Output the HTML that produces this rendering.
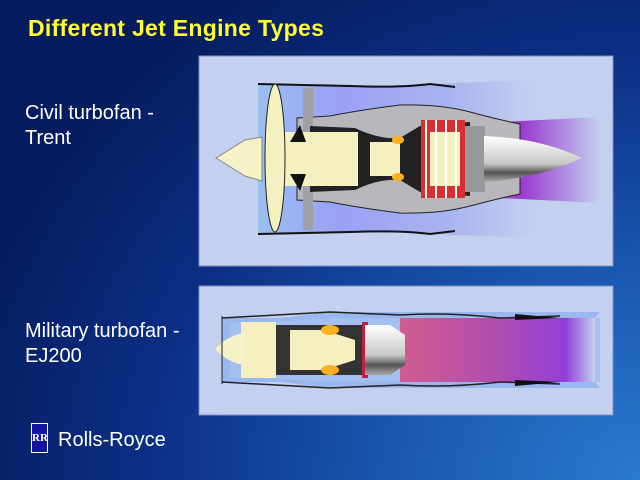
<!DOCTYPE html>
<html><head><meta charset="utf-8"><style>
html,body{margin:0;padding:0;width:640px;height:480px;overflow:hidden}
body{background:radial-gradient(ellipse 700px 600px at 640px 480px,#2a7ad0 0%,#1a58b0 35%,#0c2f85 70%,#061c5e 100%);position:relative;font-family:"Liberation Sans",sans-serif}
.t{position:absolute;color:#fff;font-size:20px;line-height:25px}
</style></head><body>
<div class="t" style="left:28px;top:16px;color:#ffff33;font-weight:bold;font-size:23px;letter-spacing:0.3px">Different Jet Engine Types</div>
<div class="t" style="left:25px;top:101px">Civil turbofan -<br>Trent</div>
<div class="t" style="left:25px;top:319px">Military turbofan -<br>EJ200</div>
<svg width="640" height="480" style="position:absolute;left:0;top:0">
<defs>
<linearGradient id="duct" x1="0" x2="1"><stop offset="0" stop-color="#9ac0ee"/><stop offset="0.3" stop-color="#9aa0f6"/><stop offset="0.7" stop-color="#a8b4ee"/><stop offset="1" stop-color="#c4d0f0"/></linearGradient>
<linearGradient id="exh" x1="0" x2="1"><stop offset="0" stop-color="#c050c0"/><stop offset="0.35" stop-color="#9a3ad0"/><stop offset="1" stop-color="#c4d0f0"/></linearGradient>
<linearGradient id="plug" x1="0" y1="0" x2="0" y2="1"><stop offset="0" stop-color="#fff"/><stop offset="0.6" stop-color="#c8c8c8"/><stop offset="0.8" stop-color="#555"/><stop offset="1" stop-color="#aaa"/></linearGradient>
<linearGradient id="mexh" x1="0" x2="1"><stop offset="0" stop-color="#d05c90"/><stop offset="0.5" stop-color="#b04cb0"/><stop offset="0.85" stop-color="#9040d8"/><stop offset="1" stop-color="#c4d0f0"/></linearGradient>
</defs>
<rect x="199" y="56" width="414" height="210" fill="#c4d0f0" stroke="#8090c0"/>
<rect x="199" y="286" width="414" height="129" fill="#c4d0f0" stroke="#8090c0"/>
<!-- top engine -->
<path d="M258,84 L350,86 Q400,88 430,84 L532,80 L532,238 L430,234 Q400,230 350,232 L258,234 Z" fill="url(#duct)"/>
<path d="M258,84 L350,86 Q400,88 430,84 L455,87" fill="none" stroke="#111" stroke-width="2"/>
<path d="M258,234 L350,232 Q400,230 430,234 L455,231" fill="none" stroke="#111" stroke-width="2"/>
<path d="M480,123 L600,117 L600,203 L480,197 Z" fill="url(#exh)"/>
<path d="M297,118 L330,116 Q360,110 400,105 Q440,104 470,112 Q500,120 520,124 L520,194 Q500,198 470,206 Q440,214 400,213 Q360,208 330,202 L297,200 Z" fill="#b8b8bc" stroke="#222"/>
<rect x="303" y="88" width="10" height="142" fill="#a0a0a8"/>
<path d="M310,126 L355,128 Q380,140 400,138 L420,126 L470,122 L470,196 L420,192 L400,180 Q380,178 355,190 L310,192 Z" fill="#222"/>
<rect x="313" y="132" width="45" height="54" fill="#f4f0c0"/>
<rect x="370" y="142" width="30" height="34" fill="#f4f0c0"/>
<rect x="421" y="120" width="44" height="78" fill="#d83030"/>
<rect x="430" y="132" width="30" height="54" fill="#f4f0c0"/>
<g stroke="#fff" stroke-width="2"><line x1="426" y1="120" x2="426" y2="198"/><line x1="436" y1="120" x2="436" y2="198"/><line x1="446" y1="120" x2="446" y2="198"/><line x1="456" y1="120" x2="456" y2="198"/></g>
<ellipse cx="398" cy="140" rx="6" ry="4" fill="#ffb020"/><ellipse cx="398" cy="177" rx="6" ry="4" fill="#ffb020"/>
<rect x="465" y="126" width="20" height="66" fill="#999"/>
<path d="M484,136 Q540,138 582,158 Q540,178 484,182 Z" fill="url(#plug)"/>
<rect x="265" y="132" width="50" height="54" fill="#f4f0c0"/>
<ellipse cx="275" cy="158" rx="10" ry="74" fill="#f4f0c0" stroke="#222"/>
<path d="M216,158 L245,140 L262,137 L262,181 L245,176 Z" fill="#f6f2c8" stroke="#888"/>
<path d="M290,142 L300,125 L306,142 Z M290,174 L300,191 L306,174 Z" fill="#111"/>
<!-- bottom engine -->
<path d="M222,318 L280,318 L330,312 L600,312 L595,318 L595,382 L600,388 L330,388 L280,382 L222,382 Z" fill="#9ab8ee"/>
<path d="M230,322 L270,322 L330,318 L600,318 L600,382 L330,382 L270,378 L230,378 Z" fill="#a4c0f0"/>
<path d="M400,318 L595,318 L595,382 L400,382 Z" fill="url(#mexh)"/>
<path d="M222,318 L330,312 L400,315 Q450,312 500,318 L560,316" fill="none" stroke="#222" stroke-width="1.5"/>
<path d="M222,382 L330,388 L400,385 Q450,388 500,382 L560,384" fill="none" stroke="#222" stroke-width="1.5"/>
<path d="M515,314 L560,318 L515,320 Z M515,380 L560,382 L515,386 Z" fill="#111"/>
<rect x="270" y="325" width="100" height="50" fill="#333"/>
<rect x="241" y="322" width="35" height="56" fill="#f4f0c0"/>
<rect x="290" y="330" width="40" height="40" fill="#f4f0c0"/>
<path d="M330,332 L355,340 L355,360 L330,368 Z" fill="#f4f0c0"/>
<ellipse cx="330" cy="330" rx="9" ry="5" fill="#ffb020"/><ellipse cx="330" cy="370" rx="9" ry="5" fill="#ffb020"/>
<rect x="362" y="322" width="6" height="56" fill="#c02040"/>
<path d="M365,325 L390,325 L405,335 L405,365 L390,375 L365,375 Z" fill="url(#plug)"/>
<path d="M215,349 Q228,335 245,333 L245,365 Q228,363 215,349 Z" fill="#f6f2c8"/>
<line x1="222" y1="316" x2="222" y2="384" stroke="#222"/>
</svg>
<div style="position:absolute;left:31px;top:423px;width:17px;height:30px;background:#1414a0;border:1px solid #fff;box-sizing:border-box;color:#fff;font:bold 11px 'Liberation Serif',serif;text-align:center;line-height:28px">RR</div>
<div class="t" style="left:58px;top:428px;font-size:20px">Rolls-Royce</div>
</body></html>
